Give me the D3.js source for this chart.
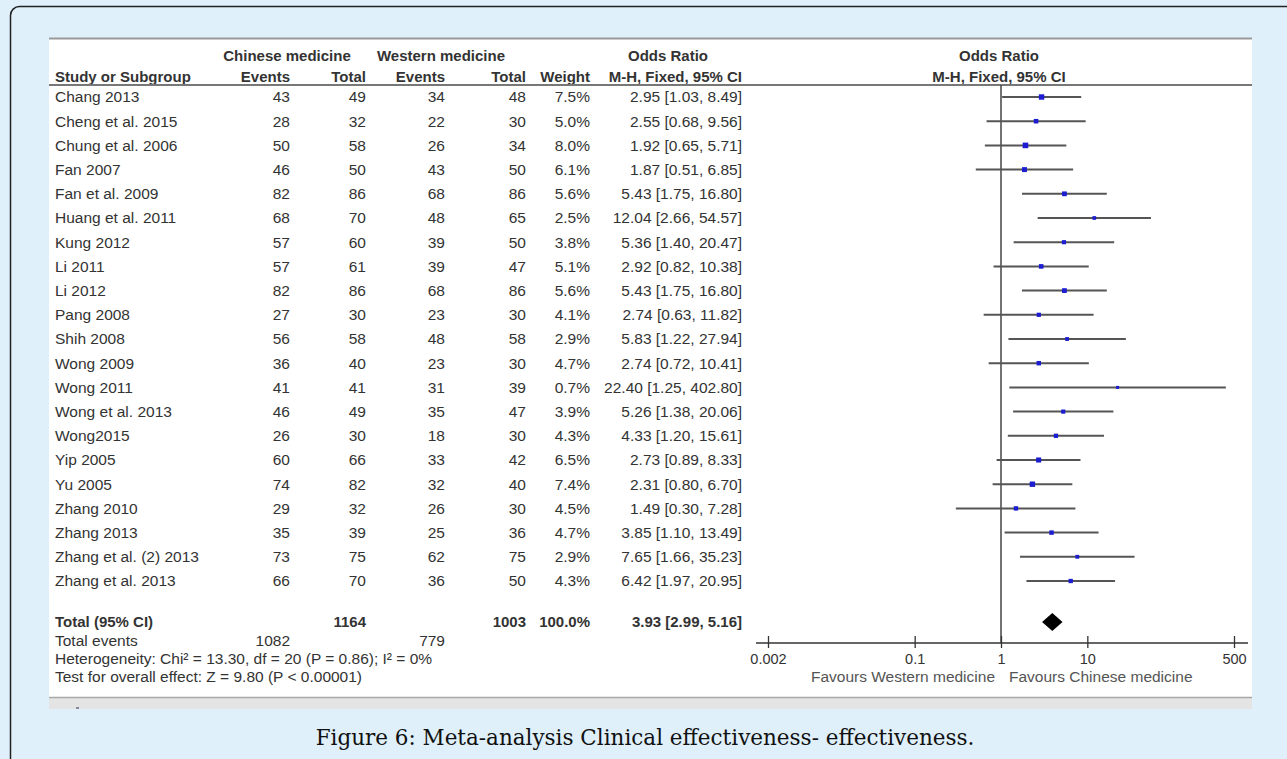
<!DOCTYPE html>
<html>
<head>
<meta charset="utf-8">
<script src="https://cdn.jsdelivr.net/npm/d3@7"></script>
<style>
  body { margin: 0; background: #dff0fa; }
  svg { display: block; }
  text { font-family: "Liberation Sans", Arial, sans-serif; fill: #333; }
</style>
</head>
<body>
<svg width="1287" height="759"></svg>
<script>
// study data
const studies = ["Chang 2013", "Cheng et al. 2015", "Chung et al. 2006", "Fan 2007", "Fan et al. 2009",
  "Huang et al. 2011", "Kung 2012", "Li 2011", "Li 2012", "Pang 2008", "Shih 2008", "Wong 2009",
  "Wong 2011", "Wong et al. 2013", "Wong2015", "Yip 2005", "Yu 2005", "Zhang 2010", "Zhang 2013",
  "Zhang et al. (2) 2013", "Zhang et al. 2013"];
const cmEvents = [43, 28, 50, 46, 82, 68, 57, 57, 82, 27, 56, 36, 41, 46, 26, 60, 74, 29, 35, 73, 66];
const cmTotal = [49, 32, 58, 50, 86, 70, 60, 61, 86, 30, 58, 40, 41, 49, 30, 66, 82, 32, 39, 75, 70];
const wmEvents = [34, 22, 26, 43, 68, 48, 39, 39, 68, 23, 48, 23, 31, 35, 18, 33, 32, 26, 25, 62, 36];
const wmTotal = [48, 30, 34, 50, 86, 65, 50, 47, 86, 30, 58, 30, 39, 47, 30, 42, 40, 30, 36, 75, 50];
const weights = [7.5, 5.0, 8.0, 6.1, 5.6, 2.5, 3.8, 5.1, 5.6, 4.1, 2.9, 4.7, 0.7, 3.9, 4.3, 6.5, 7.4, 4.5, 4.7, 2.9, 4.3];
const orVals = [2.95, 2.55, 1.92, 1.87, 5.43, 12.04, 5.36, 2.92, 5.43, 2.74, 5.83, 2.74, 22.40, 5.26, 4.33, 2.73, 2.31, 1.49, 3.85, 7.65, 6.42];
const ciLow = [1.03, 0.68, 0.65, 0.51, 1.75, 2.66, 1.40, 0.82, 1.75, 0.63, 1.22, 0.72, 1.25, 1.38, 1.20, 0.89, 0.80, 0.30, 1.10, 1.66, 1.97];
const ciHigh = [8.49, 9.56, 5.71, 6.85, 16.80, 54.57, 20.47, 10.38, 16.80, 11.82, 27.94, 10.41, 402.80, 20.06, 15.61, 8.33, 6.70, 7.28, 13.49, 35.23, 20.95];

// pooled result
const total = { cmTotal: 1164, wmTotal: 1003, weight: "100.0%", or: 3.93, lo: 2.99, hi: 5.16, cmEvents: 1082, wmEvents: 779 };
const heterogeneity = "Heterogeneity: Chi\u00b2 = 13.30, df = 20 (P = 0.86); I\u00b2 = 0%";
const overallTest = "Test for overall effect: Z = 9.80 (P < 0.00001)";
const tickVals = [0.002, 0.1, 1, 10, 500];
const tickLabels = ["0.002", "0.1", "1", "10", "500"];
const caption = "Figure 6: Meta-analysis Clinical effectiveness- effectiveness.";

const svg = d3.select("svg");
const fs = 15.5;

// outer frame and white panel
svg.append("rect").attr("x", 10.5).attr("y", 6.5).attr("width", 1300).attr("height", 800)
  .attr("rx", 9).attr("fill", "#dff0fa").attr("stroke", "#222").attr("stroke-width", 1.5);
svg.append("rect").attr("x", 49).attr("y", 38).attr("width", 1203).attr("height", 660).attr("fill", "#fff");
svg.append("line").attr("x1", 49).attr("x2", 1252).attr("y1", 38.5).attr("y2", 38.5)
  .attr("stroke", "#9a9a9a").attr("stroke-width", 2);
svg.append("rect").attr("x", 49).attr("y", 697).attr("width", 1203).attr("height", 12).attr("fill", "#e4e4e4");
svg.append("line").attr("x1", 49).attr("x2", 1252).attr("y1", 697.5).attr("y2", 697.5)
  .attr("stroke", "#a8a8a8").attr("stroke-width", 1.5);
svg.append("rect").attr("x", 76).attr("y", 707).attr("width", 3).attr("height", 2).attr("fill", "#889");

// scales
const x = d3.scaleLog().domain([0.002, 500]).range([768, 1234]);
const y = d3.scalePoint().domain(d3.range(studies.length)).range([97, 581]);
const yTotal = 622, yEvents = 641, yHet = 659, yTest = 677, yAxis = 643;

// header
const hdr = svg.append("g").attr("font-weight", "bold").attr("font-size", 15);
const h1 = 61, h2 = 82;
[["Chinese medicine", 287, "middle", h1], ["Western medicine", 441, "middle", h1],
 ["Odds Ratio", 668, "middle", h1], ["Odds Ratio", 999, "middle", h1],
 ["Study or Subgroup", 55, "start", h2], ["Events", 290, "end", h2], ["Total", 366, "end", h2],
 ["Events", 445, "end", h2], ["Total", 526, "end", h2], ["Weight", 590, "end", h2],
 ["M-H, Fixed, 95% CI", 742, "end", h2], ["M-H, Fixed, 95% CI", 999, "middle", h2]]
  .forEach(h => hdr.append("text").attr("x", h[1]).attr("y", h[3]).attr("text-anchor", h[2]).text(h[0]));
svg.append("line").attr("x1", 49).attr("x2", 1252).attr("y1", 85).attr("y2", 85)
  .attr("stroke", "#777").attr("stroke-width", 2);

// table rows
const rows = svg.append("g").attr("font-size", fs);
const cols = [
  { v: i => studies[i], x: 55, a: "start" },
  { v: i => cmEvents[i], x: 290, a: "end" },
  { v: i => cmTotal[i], x: 366, a: "end" },
  { v: i => wmEvents[i], x: 445, a: "end" },
  { v: i => wmTotal[i], x: 526, a: "end" },
  { v: i => weights[i].toFixed(1) + "%", x: 590, a: "end" },
  { v: i => orVals[i].toFixed(2) + " [" + ciLow[i].toFixed(2) + ", " + ciHigh[i].toFixed(2) + "]", x: 742, a: "end" }
];
cols.forEach(c => {
  rows.selectAll(null).data(d3.range(studies.length)).enter().append("text")
    .attr("x", c.x).attr("y", i => y(i)).attr("dy", "0.35em")
    .attr("text-anchor", c.a).text(c.v);
});

const tot = svg.append("g").attr("font-size", fs);
const tb = tot.append("g").attr("font-weight", "bold").attr("font-size", 15);
tb.append("text").attr("x", 55).attr("y", yTotal).attr("dy", "0.35em").text("Total (95% CI)");
tb.append("text").attr("x", 366).attr("y", yTotal).attr("dy", "0.35em").attr("text-anchor", "end").text(total.cmTotal);
tb.append("text").attr("x", 526).attr("y", yTotal).attr("dy", "0.35em").attr("text-anchor", "end").text(total.wmTotal);
tb.append("text").attr("x", 590).attr("y", yTotal).attr("dy", "0.35em").attr("text-anchor", "end").text(total.weight);
tb.append("text").attr("x", 742).attr("y", yTotal).attr("dy", "0.35em").attr("text-anchor", "end")
  .text(total.or.toFixed(2) + " [" + total.lo.toFixed(2) + ", " + total.hi.toFixed(2) + "]");
tot.append("text").attr("x", 55).attr("y", yEvents).attr("dy", "0.35em").text("Total events");
tot.append("text").attr("x", 290).attr("y", yEvents).attr("dy", "0.35em").attr("text-anchor", "end").text(total.cmEvents);
tot.append("text").attr("x", 445).attr("y", yEvents).attr("dy", "0.35em").attr("text-anchor", "end").text(total.wmEvents);
tot.append("text").attr("x", 55).attr("y", yHet).attr("dy", "0.35em").text(heterogeneity);
tot.append("text").attr("x", 55).attr("y", yTest).attr("dy", "0.35em").text(overallTest);

// forest plot
const plot = svg.append("g");
plot.append("line").attr("x1", x(1)).attr("x2", x(1)).attr("y1", 85).attr("y2", yAxis)
  .attr("stroke", "#444").attr("stroke-width", 1.5);
plot.selectAll(".ci").data(d3.range(studies.length)).enter().append("line")
  .attr("x1", i => x(ciLow[i])).attr("x2", i => x(ciHigh[i]))
  .attr("y1", i => y(i)).attr("y2", i => y(i))
  .attr("stroke", "#555").attr("stroke-width", 2);
const side = i => 2.8 + weights[i] * 0.35;
plot.selectAll(".pt").data(d3.range(studies.length)).enter().append("rect")
  .attr("width", side).attr("height", side)
  .attr("x", i => x(orVals[i]) - side(i) / 2)
  .attr("y", i => y(i) - side(i) / 2)
  .attr("fill", "#1c1cd0");
plot.append("path")
  .attr("d", "M" + x(total.lo) + "," + yTotal + "L" + x(total.or) + "," + (yTotal - 9) +
    "L" + x(total.hi) + "," + yTotal + "L" + x(total.or) + "," + (yTotal + 9) + "Z")
  .attr("fill", "#000");

// axis
const axis = svg.append("g").attr("transform", "translate(0," + yAxis + ")")
  .call(d3.axisBottom(x).tickValues(tickVals).tickFormat((d, i) => tickLabels[i]).tickSize(5).tickPadding(6));
axis.select(".domain").remove();
axis.append("line").attr("x1", x(0.002) - 12).attr("x2", x(500) + 14).attr("stroke", "#333").attr("stroke-width", 1.5);
axis.selectAll(".tick line").attr("y1", -7).attr("y2", 5).attr("stroke", "#333").attr("stroke-width", 1.3);
axis.selectAll(".tick text").attr("font-size", 14.5).attr("fill", "#444")
  .attr("font-family", "Liberation Sans, Arial, sans-serif");

svg.append("text").attr("x", x(1) - 6).attr("y", 677).attr("dy", "0.35em").attr("text-anchor", "end")
  .attr("font-size", 15.5).style("fill", "#555").text("Favours Western medicine");
svg.append("text").attr("x", x(1) + 8).attr("y", 677).attr("dy", "0.35em")
  .attr("font-size", 15.5).style("fill", "#555").text("Favours Chinese medicine");

// caption
svg.append("text").attr("x", 645).attr("y", 745).attr("text-anchor", "middle")
  .style("font-family", "'DejaVu Serif', 'Liberation Serif', serif").style("fill", "#111")
  .attr("font-size", 21.5).text(caption);
</script>
</body>
</html>
